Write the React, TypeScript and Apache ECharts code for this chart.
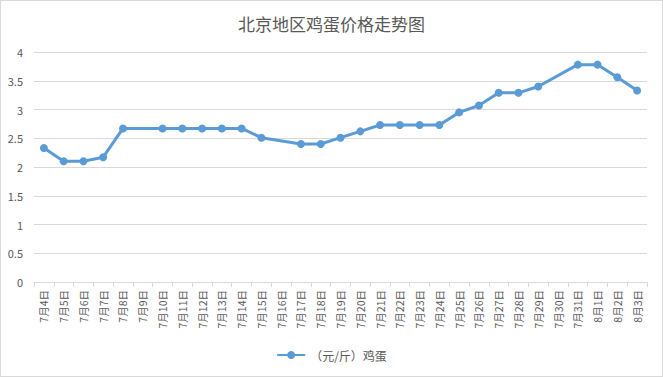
import React, { useEffect, useRef } from "react";
import * as echarts from "echarts";

const categories = [
  "7月4日", "7月5日", "7月6日", "7月7日", "7月8日", "7月9日", "7月10日", "7月11日",
  "7月12日", "7月13日", "7月14日", "7月15日", "7月16日", "7月17日", "7月18日", "7月19日",
  "7月20日", "7月21日", "7月22日", "7月23日", "7月24日", "7月25日", "7月26日", "7月27日",
  "7月28日", "7月29日", "7月30日", "7月31日", "8月1日", "8月2日", "8月3日",
];
const eggPrice: (number | null)[] = [
  2.33, 2.1, 2.1, 2.17, 2.67, null, 2.67, 2.67,
  2.67, 2.67, 2.67, 2.51, null, 2.4, 2.4, 2.51,
  2.62, 2.73, 2.73, 2.73, 2.73, 2.95, 3.07, 3.29,
  3.29, 3.4, null, 3.78, 3.78, 3.56, 3.33,
];
const seriesName = "（元/斤）鸡蛋";
const titleText = "北京地区鸡蛋价格走势图";

export default function App() {
  const ref = useRef<HTMLDivElement>(null);
  useEffect(() => {
    if (!ref.current) return;
    const chart = echarts.init(ref.current, undefined, { renderer: "svg" });
    const font = "'Noto Sans CJK SC', 'Microsoft YaHei', sans-serif";
    chart.setOption({
      animation: false,
      backgroundColor: "#ffffff",
      textStyle: { fontFamily: font },
      title: {
        text: titleText,
        left: "center",
        top: 9,
        textStyle: { fontSize: 17, fontWeight: "normal", color: "#595959", fontFamily: font },
      },
      grid: { left: 33, right: 15, top: 51, bottom: 94, containLabel: false },
      legend: {
        bottom: 10,
        left: "center",
        itemWidth: 28,
        itemHeight: 10,
        textStyle: { fontSize: 12, color: "#595959", fontFamily: font },
        data: [seriesName],
      },
      xAxis: {
        type: "category",
        data: categories,
        boundaryGap: true,
        axisLine: { lineStyle: { color: "#d9d9d9" } },
        axisTick: { show: true, length: 5, lineStyle: { color: "#d9d9d9" } },
        axisLabel: {
          rotate: 90,
          interval: 0,
          fontSize: 10.5,
          color: "#595959",
          margin: 8,
          fontFamily: font,
        },
      },
      yAxis: {
        type: "value",
        min: 0,
        max: 4,
        interval: 0.5,
        axisLine: { show: false },
        axisTick: { show: false },
        axisLabel: { fontSize: 11, color: "#595959", margin: 11, fontFamily: font },
        splitLine: { lineStyle: { color: "#d9d9d9" } },
      },
      series: [
        {
          name: seriesName,
          type: "line",
          data: eggPrice,
          connectNulls: true,
          symbol: "circle",
          symbolSize: 8,
          showAllSymbol: true,
          lineStyle: { color: "#5b9bd5", width: 3 },
          itemStyle: { color: "#5b9bd5" },
        },
      ],
    });
    return () => chart.dispose();
  }, []);
  return (
    <div
      ref={ref}
      style={{
        position: "fixed",
        left: 0,
        top: 0,
        width: 663,
        height: 377,
        boxSizing: "border-box",
        border: "1px solid #d9d9d9",
        background: "#fff",
      }}
    />
  );
}
